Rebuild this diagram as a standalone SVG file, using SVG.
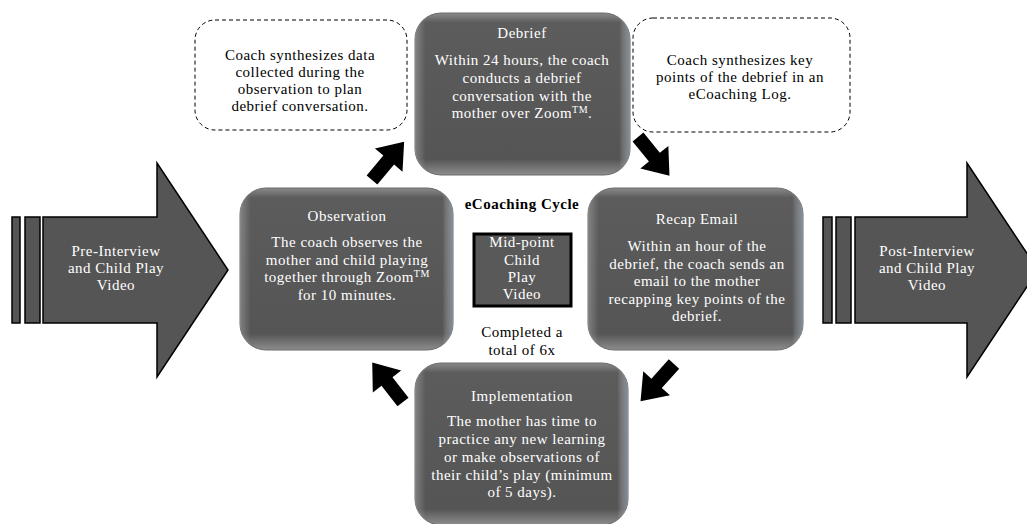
<svg xmlns="http://www.w3.org/2000/svg" width="1027" height="524" viewBox="0 0 1027 524">
<defs>
<linearGradient id="boxg" x1="0" y1="0" x2="0" y2="1">
<stop offset="0" stop-color="#8a8a8a"/>
<stop offset="0.06" stop-color="#5c5c5c"/>
<stop offset="0.9" stop-color="#555555"/>
<stop offset="1" stop-color="#8d8d8d"/>
</linearGradient>
<linearGradient id="sideg" x1="0" y1="0" x2="1" y2="0">
<stop offset="0" stop-color="#ffffff" stop-opacity="0.25"/>
<stop offset="0.05" stop-color="#ffffff" stop-opacity="0"/>
<stop offset="0.95" stop-color="#ffffff" stop-opacity="0"/>
<stop offset="1" stop-color="#a8c0d8" stop-opacity="0.5"/>
</linearGradient>
<path id="blk" d="M0,-7 L26,-7 L26,-18 L50,0 L26,18 L26,7 L0,7 Z"/>
</defs>
<style>
.box{fill:url(#boxg);stroke:#6a6a6a;stroke-width:1}
.sheen{fill:url(#sideg);stroke:none}
.wt{fill:#ffffff;font-family:"Liberation Serif","DejaVu Serif",serif;font-size:15px;letter-spacing:0.5px;text-anchor:middle}
.bt{fill:#000000;font-family:"Liberation Serif","DejaVu Serif",serif;font-size:15px;letter-spacing:0.5px;text-anchor:middle}
.dash{fill:#ffffff;stroke:#000;stroke-width:1;stroke-dasharray:4,3}
.big{fill:#555555;stroke:#000;stroke-width:1.5}
.blk{fill:#000}
</style>
<rect width="1027" height="524" fill="#ffffff"/>

<g id="pre-interview">
<rect class="big" x="12" y="217" width="8" height="106"/>
<rect class="big" x="25" y="217" width="15" height="106"/>
<path class="big" d="M43,217 L157,217 L157,163 L228,270 L157,377 L157,323 L43,323 Z"/>
<text class="wt" font-size="14" x="116" y="256">Pre-Interview</text>
<text class="wt" font-size="14" x="116" y="273">and Child Play</text>
<text class="wt" font-size="14" x="116" y="290">Video</text>
</g>

<g id="post-interview">
<rect class="big" x="823" y="217" width="9" height="106"/>
<rect class="big" x="836" y="217" width="15" height="106"/>
<path class="big" d="M855,217 L967,217 L967,163 L1038,270 L967,377 L967,323 L855,323 Z"/>
<text class="wt" font-size="14" x="927" y="256">Post-Interview</text>
<text class="wt" font-size="14" x="927" y="273">and Child Play</text>
<text class="wt" font-size="14" x="927" y="290">Video</text>
</g>

<g id="note-plan">
<rect class="dash" x="195" y="20" width="212" height="110" rx="20"/>
<text class="bt" x="300" y="60">Coach synthesizes data</text>
<text class="bt" x="300" y="77">collected during the</text>
<text class="bt" x="300" y="94">observation to plan</text>
<text class="bt" x="300" y="111">debrief conversation.</text>
</g>

<g id="note-log">
<rect class="dash" x="633" y="18" width="217" height="114" rx="20"/>
<text class="bt" x="740" y="65">Coach synthesizes key</text>
<text class="bt" x="740" y="82">points of the debrief in an</text>
<text class="bt" x="740" y="99">eCoaching Log.</text>
</g>

<g id="debrief">
<rect class="box" x="415" y="13" width="215" height="162" rx="26"/>
<rect class="sheen" x="415" y="13" width="215" height="162" rx="26"/>
<text class="wt" x="522" y="38">Debrief</text>
<text class="wt" x="522" y="65">Within 24 hours, the coach</text>
<text class="wt" x="522" y="83">conducts a debrief</text>
<text class="wt" x="522" y="101">conversation with the</text>
<text class="wt" x="522" y="118">mother over Zoom<tspan font-size="10" dy="-5">TM</tspan><tspan dy="5">.</tspan></text>
</g>

<g id="observation">
<rect class="box" x="240" y="188" width="213" height="162" rx="26"/>
<rect class="sheen" x="240" y="188" width="213" height="162" rx="26"/>
<text class="wt" x="347" y="221">Observation</text>
<text class="wt" x="347" y="247">The coach observes the</text>
<text class="wt" x="347" y="265">mother and child playing</text>
<text class="wt" x="347" y="282">together through Zoom<tspan font-size="10" dy="-5">TM</tspan></text>
<text class="wt" x="347" y="300">for 10 minutes.</text>
</g>

<g id="recap-email">
<rect class="box" x="588" y="188" width="215" height="162" rx="26"/>
<rect class="sheen" x="588" y="188" width="215" height="162" rx="26"/>
<text class="wt" x="697" y="224">Recap Email</text>
<text class="wt" x="697" y="251">Within an hour of the</text>
<text class="wt" x="697" y="269">debrief, the coach sends an</text>
<text class="wt" x="697" y="286">email to the mother</text>
<text class="wt" x="697" y="304">recapping key points of the</text>
<text class="wt" x="697" y="321">debrief.</text>
</g>

<g id="implementation">
<rect class="box" x="415" y="363" width="213" height="162" rx="26"/>
<rect class="sheen" x="415" y="363" width="213" height="162" rx="26"/>
<text class="wt" x="522" y="401">Implementation</text>
<text class="wt" x="522" y="426">The mother has time to</text>
<text class="wt" x="522" y="444">practice any new learning</text>
<text class="wt" x="522" y="462">or make observations of</text>
<text class="wt" x="522" y="480">their child’s play (minimum</text>
<text class="wt" x="522" y="497">of 5 days).</text>
</g>

<g id="cycle-center">
<text class="bt" x="522" y="209" font-weight="bold" font-size="14" letter-spacing="0.3">eCoaching Cycle</text>
<rect x="474" y="234" width="97" height="72" fill="#595959" stroke="#000" stroke-width="3"/>
<text class="wt" x="522" y="247">Mid-point</text>
<text class="wt" x="522" y="265">Child</text>
<text class="wt" x="522" y="282">Play</text>
<text class="wt" x="522" y="299">Video</text>
<text class="bt" x="522" y="337">Completed a</text>
<text class="bt" x="522" y="355">total of 6x</text>
</g>

<g id="connectors">
<use href="#blk" class="blk" transform="translate(372,180) rotate(-50)"/>
<use href="#blk" class="blk" transform="translate(638,137) rotate(51)"/>
<use href="#blk" class="blk" transform="translate(674,364) rotate(132)"/>
<use href="#blk" class="blk" transform="translate(403,402) rotate(-128)"/>
</g>
</svg>
